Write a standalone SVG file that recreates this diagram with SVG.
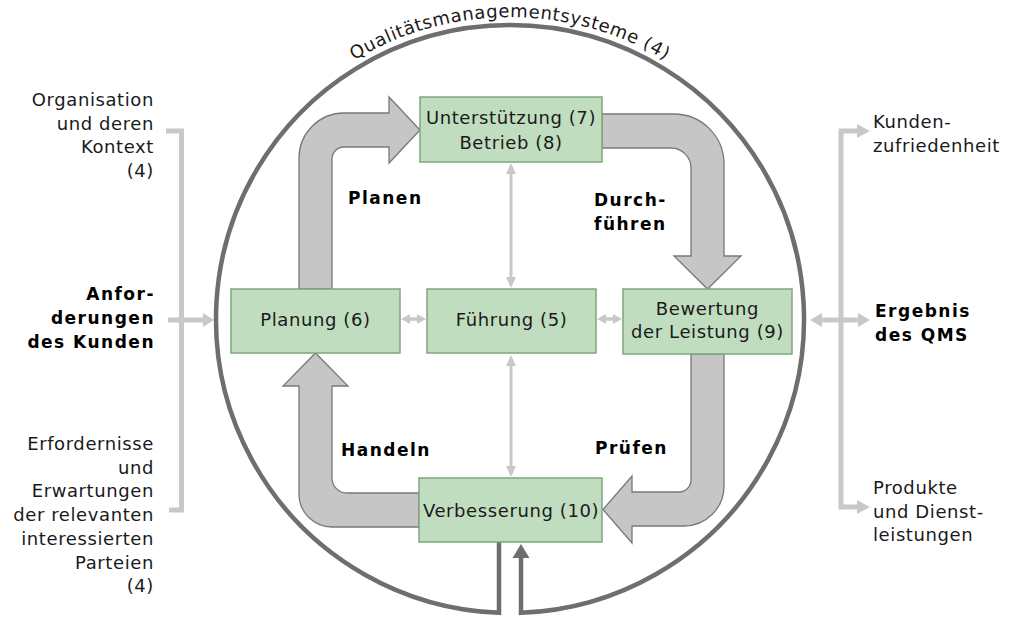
<svg xmlns="http://www.w3.org/2000/svg" width="1009" height="618" viewBox="0 0 1009 618">
<style>
.box{fill:#c1ddbf;stroke:#7fa77d;stroke-width:1.5}
.big{fill:#c6c6c6;stroke:#787878;stroke-width:1.3}
.thin{fill:#c8c8c8;stroke:none}
.br{fill:none;stroke:#c8c8c8;stroke-width:5}
.ring{fill:none;stroke:#6e6e6e;stroke-width:4.5;stroke-linejoin:miter}
text{font-family:"DejaVu Sans","Liberation Sans",sans-serif;font-size:18px;letter-spacing:0.6px;fill:#1a1a1a}
.b{font-weight:bold;font-size:17px;letter-spacing:1.5px;fill:#000}
.m{text-anchor:middle}
.e{text-anchor:end}
</style>
<defs>
<path id="arcp" d="M 247.7 168.5 A 303 303 0 0 1 772.3 168.5"/>
</defs>
<g id="qms-ring">
<path class="ring" d="M 499 542 L 499 612.8 A 294 294 0 1 1 521 612.8 L 521 556"/>
<polygon points="521,544 529.5,558 512.5,558" fill="#6e6e6e"/>
<text class="m"><textPath href="#arcp" startOffset="50%">Qualitätsmanagementsysteme (4)</textPath></text>
</g>
<g id="connectors">
<path class="big" d="M 299 289 L 299 158 A 45 45 0 0 1 344 113 L 389 113 L 389 97 L 420 130 L 389 163 L 389 147 L 344 147 A 12 12 0 0 0 332 159 L 332 289 Z"/>
<path class="big" d="M 602 114 L 674 114 A 50 50 0 0 1 724 164 L 724 256 L 741 256 L 707.5 289 L 674 256 L 691 256 L 691 168 A 20 20 0 0 0 671 148 L 602 148 Z"/>
<path class="big" d="M 691 354 L 691 480 A 12 12 0 0 1 679 492 L 632 492 L 632 476 L 603 509.5 L 632 543 L 632 526 L 684 526 A 40 40 0 0 0 724 486 L 724 354 Z"/>
<path class="big" d="M 419 493 L 347 493 A 15 15 0 0 1 332 478 L 332 386 L 348 386 L 315.5 353 L 283 386 L 299 386 L 299 494 A 33 33 0 0 0 332 527 L 419 527 Z"/>
<path class="thin" d="M 511 163 L 516 174 L 512.5 174 L 512.5 277 L 516 277 L 511 288 L 506 277 L 509.5 277 L 509.5 174 L 506 174 Z"/>
<path class="thin" d="M 511 355 L 516 366 L 512.5 366 L 512.5 466 L 516 466 L 511 477 L 506 466 L 509.5 466 L 509.5 366 L 506 366 Z"/>
<path class="thin" d="M 401 319 L 410 314 L 410 317.2 L 417 317.2 L 417 314 L 426 319 L 417 324 L 417 320.8 L 410 320.8 L 410 324 Z"/>
<path class="thin" d="M 597 319 L 606 314 L 606 317.2 L 613 317.2 L 613 314 L 622 319 L 613 324 L 613 320.8 L 606 320.8 L 606 324 Z"/>
<path class="thin" d="M 810 320 L 822 313 L 822 317.5 L 858 317.5 L 858 313 L 870 320 L 858 327 L 858 322.5 L 822 322.5 L 822 327 Z"/>
<path class="thin" d="M 168 317.5 L 203 317.5 L 203 313 L 214 320 L 203 327 L 203 322.5 L 168 322.5 Z"/>
<path class="br" d="M 166 131 L 181.5 131 L 181.5 510 L 169 510"/>
<path class="br" d="M 859 131 L 841 131 L 841 507 L 859 507"/>
<polygon class="thin" points="857,124 870,131 857,138"/>
<polygon class="thin" points="857,500 870,507 857,514"/>
</g>
<g id="n-unterstuetzung">
<rect class="box" x="420" y="97" width="182" height="65"/>
<text class="m" x="511" y="124">Unterstützung (7)</text>
<text class="m" x="511" y="149">Betrieb (8)</text>
</g>
<g id="n-planung">
<rect class="box" x="231" y="289" width="169" height="64"/>
<text class="m" x="315.5" y="326">Planung (6)</text>
</g>
<g id="n-fuehrung">
<rect class="box" x="427" y="289" width="169" height="64"/>
<text class="m" x="511.5" y="326">Führung (5)</text>
</g>
<g id="n-bewertung">
<rect class="box" x="623" y="289" width="169" height="65"/>
<text class="m" x="707.5" y="315">Bewertung</text>
<text class="m" x="707.5" y="338">der Leistung (9)</text>
</g>
<g id="n-verbesserung">
<rect class="box" x="419" y="478" width="183" height="64"/>
<text class="m" x="511" y="517">Verbesserung (10)</text>
</g>
<g id="labels">
<text class="b" x="348" y="204">Planen</text>
<text class="b" x="594" y="206">Durch-</text>
<text class="b" x="594" y="230">führen</text>
<text class="b" x="341" y="456">Handeln</text>
<text class="b" x="595" y="454">Prüfen</text>
</g>
<g id="left-inputs">
<text class="e" x="154" y="106">Organisation</text>
<text class="e" x="154" y="129.7">und deren</text>
<text class="e" x="154" y="153.4">Kontext</text>
<text class="e" x="154" y="177">(4)</text>
<text class="e b" x="155" y="300">Anfor-</text>
<text class="e b" x="155" y="324">derungen</text>
<text class="e b" x="155" y="348">des Kunden</text>
<text class="e" x="154" y="450">Erfordernisse</text>
<text class="e" x="154" y="473.7">und</text>
<text class="e" x="154" y="497.4">Erwartungen</text>
<text class="e" x="154" y="521.1">der relevanten</text>
<text class="e" x="154" y="544.8">interessierten</text>
<text class="e" x="154" y="568.5">Parteien</text>
<text class="e" x="154" y="592.2">(4)</text>
</g>
<g id="right-outputs">
<text x="873" y="128">Kunden-</text>
<text x="873" y="151.5">zufriedenheit</text>
<text class="b" x="875" y="317">Ergebnis</text>
<text class="b" x="875" y="341">des QMS</text>
<text x="873" y="494">Produkte</text>
<text x="873" y="517.7">und Dienst-</text>
<text x="873" y="541.4">leistungen</text>
</g>
</svg>
